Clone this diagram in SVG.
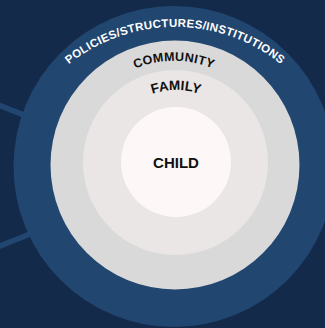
<svg xmlns="http://www.w3.org/2000/svg" width="325" height="328" viewBox="0 0 325 328">
<style>
.lbl{font-family:"Liberation Sans",Arial,sans-serif;font-weight:bold;}
.spoke{stroke:#21466f;stroke-width:5.5;fill:none;}
</style>
<defs>
<path id="arcPolicies" d="M55.1,76.6 A169.5,169.5 0 0 1 294.9,76.6"/>
<path id="arcCommunity" d="M83.9,113 A104,104 0 0 1 264.1,113"/>
<path id="arcFamily" d="M111.05,127.5 A75,75 0 0 1 240.95,127.5"/>
</defs>
<rect width="325" height="328" fill="#142a4a"/>
<g id="connectors">
<line class="spoke" x1="-5" y1="103.5" x2="80" y2="137.5"/>
<line class="spoke" x1="-5" y1="248" x2="80" y2="214"/>
</g>
<g id="policies">
<circle cx="174" cy="166.5" r="160.5" fill="#21466f"/>
<text class="lbl" font-size="11.5" letter-spacing="0.33" fill="#ffffff" text-anchor="middle"><textPath href="#arcPolicies" startOffset="50%">POLICIES/STRUCTURES/INSTITUTIONS</textPath></text>
</g>
<g id="community">
<circle cx="175" cy="165" r="124.5" fill="#d9d9d9"/>
<text class="lbl" font-size="12.5" letter-spacing="0.3" fill="#111111" text-anchor="middle"><textPath href="#arcCommunity" startOffset="50%">COMMUNITY</textPath></text>
</g>
<g id="family">
<circle cx="175.5" cy="162.5" r="92.5" fill="#e9e6e5"/>
<text class="lbl" font-size="13.5" fill="#111111" text-anchor="middle"><textPath href="#arcFamily" startOffset="50%">FAMILY</textPath></text>
</g>
<g id="child">
<circle cx="176" cy="162" r="55" fill="#fdf8f7"/>
<text class="lbl" x="176" y="168" font-size="15" fill="#111111" text-anchor="middle">CHILD</text>
</g>
</svg>
